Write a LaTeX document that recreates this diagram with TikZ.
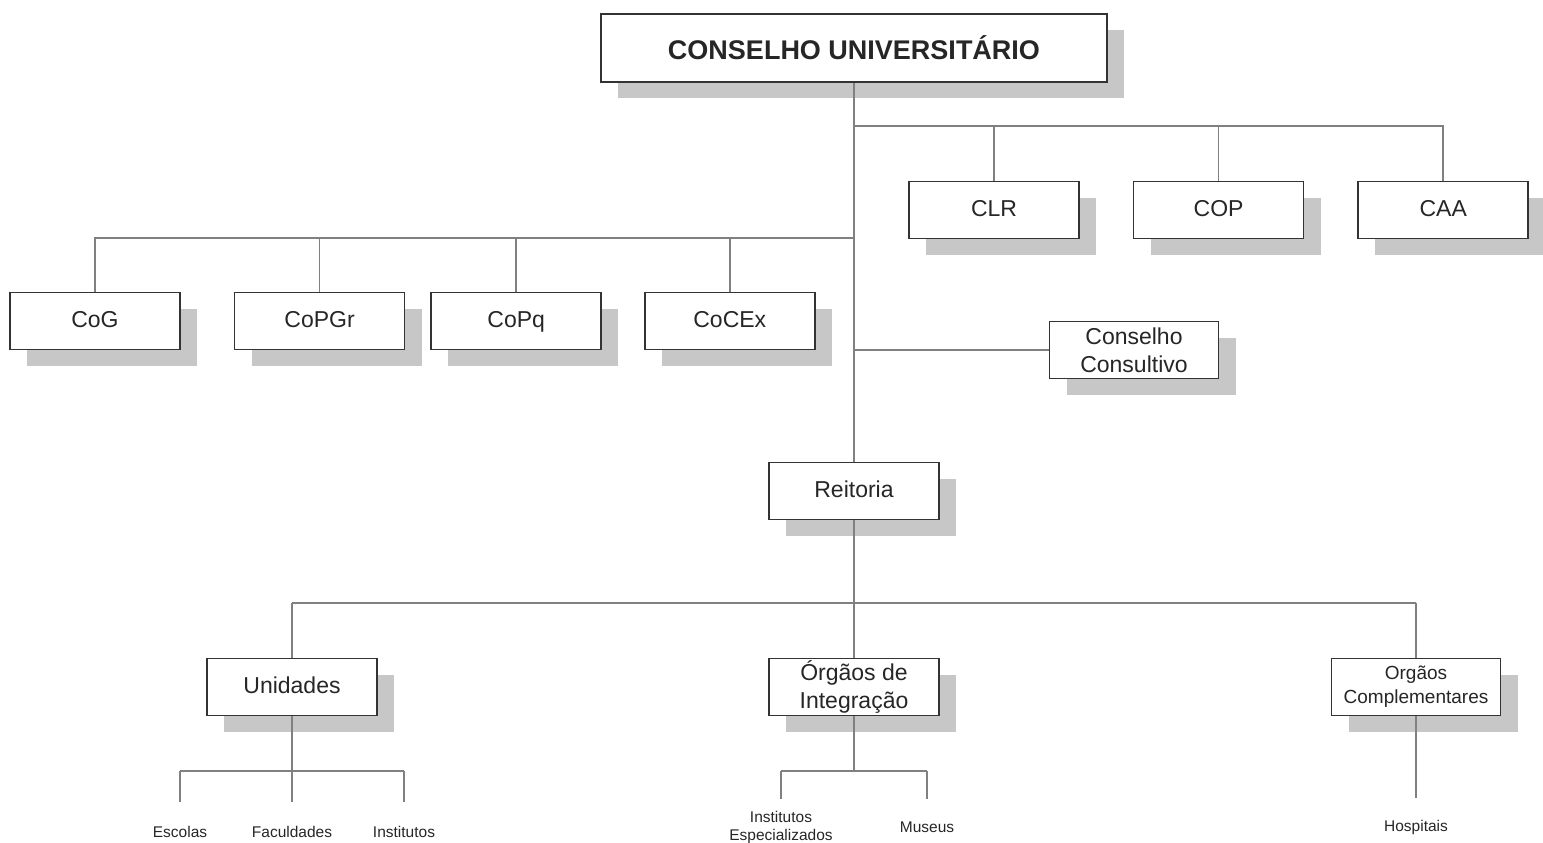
\documentclass[tikz,border=0pt]{standalone}
\usepackage{fontspec}
\setmainfont{Liberation Sans}
\usetikzlibrary{positioning, shadows}

\begin{document}
\begin{tikzpicture}[
  x=1pt, y=-1pt,
  unit/.style={draw=black!80, line width=1.6pt, fill=white, minimum width=170pt, minimum height=57pt,
    align=center, inner sep=2pt, text=black!85,
    general shadow={fill=black!22, shadow xshift=17pt, shadow yshift=-16pt},
    font=\fontsize{23}{28}\selectfont},
  one/.style={unit, text height=17pt, text depth=5pt},
  top/.style={unit, minimum width=506pt, minimum height=68pt, font=\fontsize{27}{32}\selectfont\bfseries},
  small/.style={unit, font=\fontsize{19}{24}\selectfont},
  conn/.style={draw=black!50, line width=1.6pt},
  leaf/.style={inner sep=0pt, align=center, text=black!85, font=\fontsize{15.5}{18}\selectfont}
]
\useasboundingbox (0,0) rectangle (1543,843);

% Conselho Universitario
\node[top] (CU) at (854,48) {CONSELHO UNIVERSIT\'ARIO};

% right row
\node[one] (CLR) at (994,210) {CLR};
\node[one, right=53pt of CLR] (COP) {COP};
\node[one, right=53pt of COP] (CAA) {CAA};

% left row
\node[one] (CoG) at (95,321) {CoG};
\node[one, right=53pt of CoG] (CoPGr) {CoPGr};
\node[one, right=25pt of CoPGr] (CoPq) {CoPq};
\node[one, right=42pt of CoPq] (CoCEx) {CoCEx};

\node[unit, minimum width=169pt] (Cons) at (1134,350) {Conselho\\Consultivo};

% Reitoria and below
\node[one] (Reit) at (854,491) {Reitoria};
\node[one] (Unid) at (292,687) {Unidades};
\node[unit] (Integ) at (854,687) {\'Org\~aos de\\Integra\c{c}\~ao};
\node[small, minimum width=169pt] (Compl) at (1416,687) {Org\~aos\\Complementares};

% leaves
\node[leaf] (Esc) at (180,832) {Escolas};
\node[leaf] (Fac) at (292,832) {Faculdades};
\node[leaf] (Inst) at (404,832) {Institutos};
\node[leaf] (InstEsp) at (781,827) {Institutos\\Especializados};
\node[leaf] (Mus) at (927,827) {Museus};
\node[leaf] (Hosp) at (1416,827) {Hospitais};

% connectors
\draw[conn] (CU.south) -- (Reit.north);

\coordinate (busCL) at (854,126);
\draw[conn] (busCL) -| (CAA.north);
\draw[conn] (busCL -| CLR.north) -- (CLR.north);
\draw[conn] (busCL -| COP.north) -- (COP.north);

\coordinate (busCo) at (854,238);
\draw[conn] (busCo) -| (CoG.north);
\foreach \n in {CoPGr, CoPq, CoCEx}
  \draw[conn] (busCo -| \n.north) -- (\n.north);

\draw[conn] (CU.south |- Cons.west) -- (Cons.west);

\coordinate (busR) at (854,603);
\draw[conn] (Reit.south) -- (Integ.north);
\draw[conn] (busR -| Unid.north) -- (busR -| Compl.north);
\draw[conn] (busR -| Unid.north) -- (Unid.north);
\draw[conn] (busR -| Compl.north) -- (Compl.north);

% Unidades branch
\coordinate (busU) at (292,771);
\draw[conn] (Unid.south) -- (busU);
\draw[conn] (busU -| Esc.north) -- (busU -| Inst.north);
\foreach \n in {Esc, Fac, Inst}
  \draw[conn, shorten >=24pt] (busU -| \n.north) -- (\n.north);

% Integracao branch
\coordinate (busI) at (854,771);
\draw[conn] (Integ.south) -- (busI);
\draw[conn] (busI -| InstEsp.north) -- (busI -| Mus.north);
\draw[conn, shorten >=12pt] (busI -| InstEsp.north) -- (InstEsp.north);
\draw[conn, shorten >=22pt] (busI -| Mus.north) -- (Mus.north);

% Complementares branch
\draw[conn, shorten >=22pt] (Compl.south) -- (Hosp.north);

\end{tikzpicture}
\end{document}
